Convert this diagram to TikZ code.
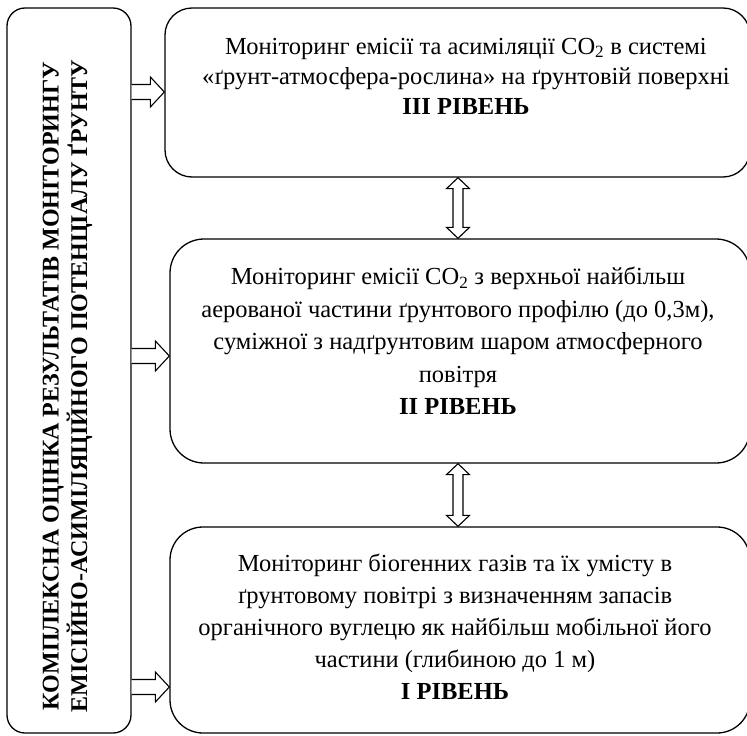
\documentclass[tikz,border=0pt]{standalone}
\usepackage{fontspec}
\setmainfont{Liberation Serif}
\usetikzlibrary{calc}
\begin{document}
\begin{tikzpicture}[x=1pt,y=-1pt,line width=1.3pt,
  box/.style={draw,rectangle,inner sep=0pt,minimum width=#1},
  blk/.style={draw,fill=white,line width=1.1pt,line join=miter},
  txt/.style={align=center,inner sep=0pt,font=\fontsize{24.5}{32.5}\selectfont}]
\useasboundingbox (0,0) rectangle (747,736);
% boxes
\node[box=124pt,minimum height=725pt,rounded corners=18pt] (L) at (69,370.5) {};
\node[box=585pt,minimum height=169pt,rounded corners=27pt] (T) at (457.5,92.5) {};
\node[box=580pt,minimum height=224pt,rounded corners=34pt] (M) at (460,351) {};
\node[box=580pt,minimum height=206pt,rounded corners=33pt] (B) at (460,630) {};
% texts
\node[txt,rotate=90,font=\fontsize{24}{28.5}\selectfont\bfseries] (LT) at (67.5,386)
  {КОМПЛЕКСНА ОЦІНКА РЕЗУЛЬТАТІВ МОНІТОРИНГУ\\ЕМІСІЙНО-АСИМІЛЯЦІЙНОГО ПОТЕНЦІАЛУ ҐРУНТУ};
\node[txt,font=\fontsize{24.5}{30}\selectfont] (TT) at (466,76)
  {Моніторинг емісії та асиміляції CO\textsubscript{2} в системі\\
   «ґрунт-атмосфера-рослина» на ґрунтовій поверхні\\
   \textbf{III РІВЕНЬ}};
\node[txt] (MT) at (458,341)
  {Моніторинг емісії CO\textsubscript{2} з верхньої найбільш\\
   аерованої частини ґрунтового профілю (до 0,3м),\\
   суміжної з надґрунтовим шаром атмосферного\\
   повітря\\
   \textbf{II РІВЕНЬ}};
\node[txt,font=\fontsize{24.5}{32}\selectfont] (BT) at (455,627)
  {Моніторинг біогенних газів та їх умісту в\\
   ґрунтовому повітрі з визначенням запасів\\
   органічного вуглецю як найбільш мобільної його\\
   частини (глибиною до 1 м)\\
   \textbf{I РІВЕНЬ}};
% horizontal block arrows
\coordinate (h1e) at ($(T.west)+(0,-0.5)$);
\coordinate (h2e) at ($(M.west)+(0,5)$);
\coordinate (h3e) at ($(B.west)+(0,57)$);
\foreach \e in {h1e,h2e,h3e}{
  \coordinate (s) at (L.east |- \e);
  \draw[blk] ($(s)+(0,-7.5)$) -- ($(\e)+(-14,-7.5)$) -- ($(\e)+(-14,-15)$) -- (\e)
    -- ($(\e)+(-14,15)$) -- ($(\e)+(-14,7.5)$) -- ($(s)+(0,7.5)$);
}
% vertical double block arrows
\coordinate (v1a) at ($(T.south)+(0.5,0)$);
\coordinate (v1b) at (v1a |- M.north);
\coordinate (v2a) at (v1a |- M.south);
\coordinate (v2b) at (v1a |- B.north);
\foreach \a/\b in {v1a/v1b,v2a/v2b}{
  \draw[blk] (\a) -- ++(11.5,11) -- ++(-6.5,0) -- ($(\b)+(5,-11)$) -- ++(6.5,0) -- (\b)
    -- ++(-11.5,-11) -- ++(6.5,0) -- ($(\a)+(-5,11)$) -- ++(-6.5,0) -- cycle;
}
\end{tikzpicture}
\end{document}
